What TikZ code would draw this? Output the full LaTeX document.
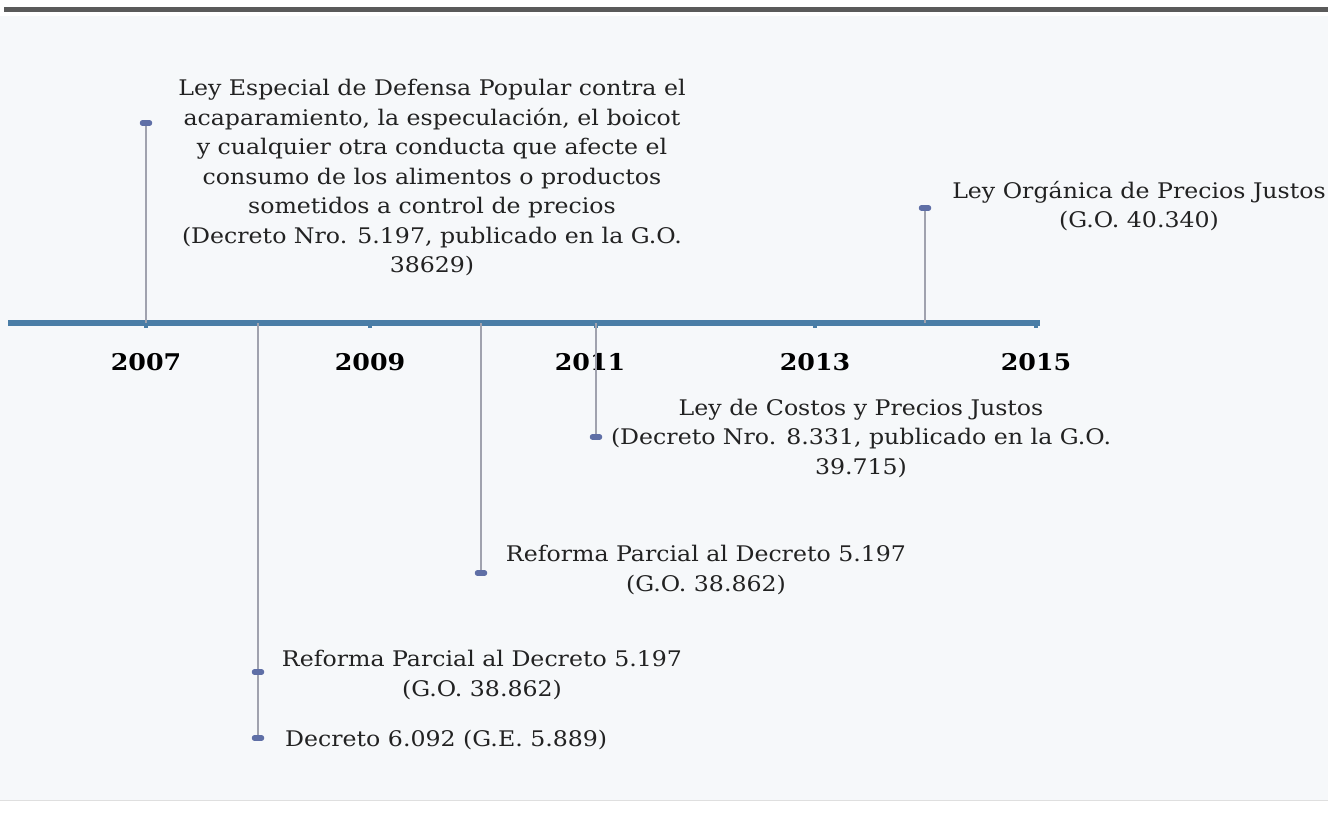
\documentclass[tikz,border=0pt]{standalone}
\usepackage{fontspec}
\setmainfont{DejaVu Serif}[FakeStretch=1.1]
\definecolor{axisblue}{HTML}{4A7DA6}
\definecolor{stemgray}{HTML}{A0A2AE}
\definecolor{markblue}{HTML}{5F6FA6}
\definecolor{topgray}{HTML}{5A5A5A}
\definecolor{txt}{HTML}{222222}
\definecolor{bgtint}{HTML}{F6F8FA}
\tikzset{
  evtext/.style={align=center, inner sep=0pt, text=txt, font=\fontsize{21.5}{29.5}\selectfont},
  yearlbl/.style={inner sep=0pt, text=black, font=\fontsize{23}{26}\selectfont\bfseries},
  stem/.style={draw=stemgray, line width=1.6pt},
  marker/.style={draw=markblue, line width=5.5pt, line cap=round},
  axis/.style={draw=axisblue, line width=6pt},
  tick/.style={draw=axisblue, line width=4pt}
}
\begin{document}
\begin{tikzpicture}[x=1pt,y=-1pt]
\useasboundingbox (0,0) rectangle (1328,828);
\fill[white] (0,0) rectangle (1328,828);
\fill[bgtint] (0,16) rectangle (1328,800);
\fill[topgray] (4,7) rectangle (1328,12);
\draw[gray!25, line width=1pt] (0,800) -- (1328,800);

% axis
\coordinate (a0) at (8,323);
\coordinate (a1) at (1040,323);
\draw[axis] (a0) -- (a1);
\foreach \x in {146,370,596,815,1036}{
  \draw[tick] (\x,323) -- (\x,328);
}

% years
\node[yearlbl] (y07) at (146,362) {2007};
\node[yearlbl] (y09) at (370,362) {2009};
\node[yearlbl] (y11) at (590,362) {2011};
\node[yearlbl] (y13) at (815,362) {2013};
\node[yearlbl] (y15) at (1036,362) {2015};

% stem points
\coordinate (b1) at (146,323); \coordinate (m1) at (146,123);
\coordinate (b2) at (258,323); \coordinate (m2a) at (258,672); \coordinate (m2b) at (258,738);
\coordinate (b3) at (481,323); \coordinate (m3) at (481,573);
\coordinate (b4) at (596,323); \coordinate (m4) at (596,437);
\coordinate (b5) at (925,323); \coordinate (m5) at (925,208);

\draw[stem] (b1) -- (m1);
\draw[stem] (b2) -- (m2b);
\draw[stem] (b3) -- (m3);
\draw[stem] (b4) -- (m4);
\draw[stem] (b5) -- (m5);

\foreach \m in {m1,m2a,m2b,m3,m4,m5}{
  \draw[marker] ([xshift=-3.5pt]\m) -- ([xshift=3.5pt]\m);
}

% texts
\node[evtext] (t1) at (432,178) {Ley Especial de Defensa Popular contra el\\
acaparamiento, la especulación, el boicot\\
y cualquier otra conducta que afecte el\\
consumo de los alimentos o productos\\
sometidos a control de precios\\
(Decreto Nro. 5.197, publicado en la G.O.\\
38629)};
\node[evtext] (t5) at (1139,206) {Ley Orgánica de Precios Justos\\(G.O. 40.340)};
\node[evtext] (t4) at (861,438) {Ley de Costos y Precios Justos\\(Decreto Nro. 8.331, publicado en la G.O.\\39.715)};
\node[evtext] (t3) at (706,570) {Reforma Parcial al Decreto 5.197\\(G.O. 38.862)};
\node[evtext] (t2) at (482,675) {Reforma Parcial al Decreto 5.197\\(G.O. 38.862)};
\node[evtext, anchor=west] (t6) at (285,740) {Decreto 6.092 (G.E. 5.889)};
\end{tikzpicture}
\end{document}
